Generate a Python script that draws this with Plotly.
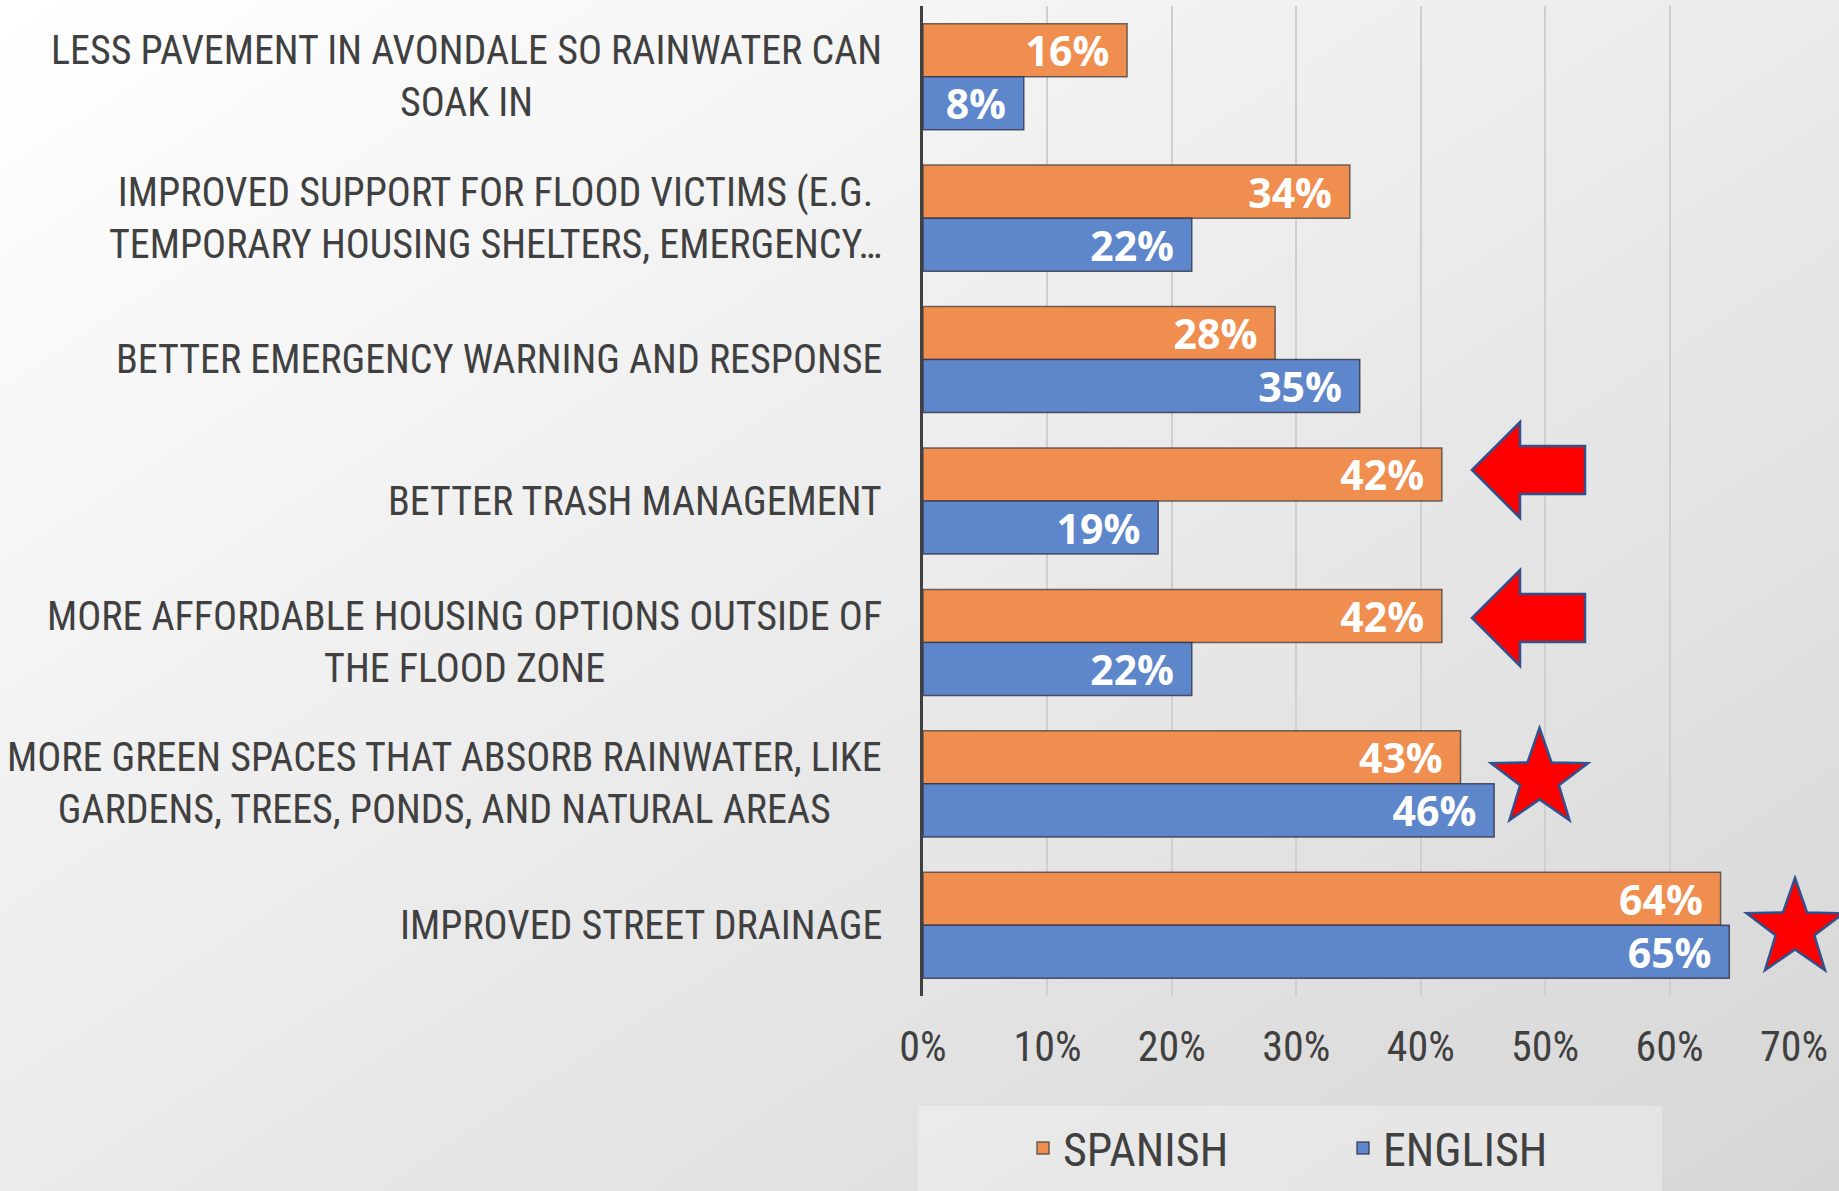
import base64
import math
import plotly.graph_objects as go

categories = [
    "LESS PAVEMENT IN AVONDALE SO RAINWATER CAN<br>SOAK IN",
    "IMPROVED SUPPORT FOR FLOOD VICTIMS (E.G.<br>TEMPORARY HOUSING SHELTERS, EMERGENCY…",
    "BETTER EMERGENCY WARNING AND RESPONSE",
    "BETTER TRASH MANAGEMENT",
    "MORE AFFORDABLE HOUSING OPTIONS OUTSIDE OF<br>THE FLOOD ZONE",
    "MORE GREEN SPACES THAT ABSORB RAINWATER, LIKE<br>GARDENS, TREES, PONDS, AND NATURAL AREAS",
    "IMPROVED STREET DRAINAGE",
]
spanish = [0.164, 0.343, 0.283, 0.417, 0.417, 0.432, 0.641]
english = [0.081, 0.216, 0.351, 0.189, 0.216, 0.459, 0.648]
series_names = ["SPANISH", "ENGLISH"]
tick_vals = [0, 0.1, 0.2, 0.3, 0.4, 0.5, 0.6, 0.7]

W, H = 1839, 1191
L, R, T, B = 923, 45, 6, 195
PW, PH = W - L - R, H - T - B

CAT_FONT = "Liberation Sans Narrow, Arial Narrow, Roboto Condensed, Open Sans, sans-serif"
TXT = "#404040"


def px(x, y):
    return (x - L) / PW, (T + PH - y) / PH


def path(points):
    pts = [px(x, y) for x, y in points]
    return "M " + " L ".join(f"{a:.5f},{b:.5f}" for a, b in pts) + " Z"


def arrow(cy):
    return path([(1472, cy), (1520, cy - 48), (1520, cy - 24), (1585, cy - 24),
                 (1585, cy + 24), (1520, cy + 24), (1520, cy + 48)])


def star(cx, cy, r, ratio=0.4):
    pts = []
    for i in range(10):
        ang = -math.pi / 2 + i * math.pi / 5
        rr = r if i % 2 == 0 else r * ratio
        pts.append((cx + rr * math.cos(ang), cy + rr * math.sin(ang)))
    return path(pts)


label_font = dict(family="Open Sans", size=41, color="white", weight="bold")
fig = go.Figure()
fig.add_trace(go.Bar(
    y=categories, x=spanish, name=series_names[0], orientation="h",
    marker=dict(color="#EF8E4F", line=dict(color="rgba(70,70,70,0.8)", width=1.5)),
    texttemplate="%{x:.0%}\u00a0\u200a", textposition="inside", insidetextanchor="end",
    constraintext="none", textangle=0, textfont=label_font,
))
fig.add_trace(go.Bar(
    y=categories, x=english, name=series_names[1], orientation="h",
    marker=dict(color="#5E86CB", line=dict(color="rgba(50,50,70,0.8)", width=1.5)),
    texttemplate="%{x:.0%}\u00a0\u200a", textposition="inside", insidetextanchor="end",
    constraintext="none", textangle=0, textfont=label_font,
))

svg = (f'<svg xmlns="http://www.w3.org/2000/svg" width="{W}" height="{H}" '
       f'viewBox="0 0 {W} {H}" preserveAspectRatio="none"><defs>'
       '<linearGradient id="g" x1="0" y1="0" x2="1" y2="1">'
       '<stop offset="0" stop-color="#ffffff"/><stop offset="1" stop-color="#d6d6d6"/>'
       '</linearGradient></defs><rect width="100%" height="100%" fill="url(#g)"/></svg>')
src = "data:image/svg+xml;base64," + base64.b64encode(svg.encode()).decode()

shapes = []
lx0, ly1 = px(918, 1106)
lx1, ly0 = px(1662, 1195)
shapes.append(dict(type="rect", xref="paper", yref="paper", x0=lx0, x1=lx1, y0=ly0, y1=ly1,
                   fillcolor="rgba(255,255,255,0.3)", line=dict(width=0), layer="below"))
for cy in (470, 618):
    shapes.append(dict(type="path", xref="paper", yref="paper", path=arrow(cy),
                       fillcolor="#FF0000", line=dict(color="#2F528F", width=2.5)))
for cx, cy in ((1539.5, 779), (1795, 929)):
    shapes.append(dict(type="path", xref="paper", yref="paper", path=star(cx, cy, 51),
                       fillcolor="#FF0000", line=dict(color="#2F528F", width=2.5)))

annotations = [
    dict(text=c, x=0, xref="paper", y=c, yref="y", xanchor="right", yanchor="middle",
         xshift=-39, align="center", showarrow=False,
         font=dict(family=CAT_FONT, size=40, color=TXT))
    for c in categories
]

fig.update_layout(
    width=W, height=H,
    margin=dict(l=L, r=R, t=T, b=B, pad=0),
    paper_bgcolor="#e9e9e9", plot_bgcolor="rgba(0,0,0,0)",
    barmode="group", bargap=0.25, bargroupgap=0,
    images=[dict(source=src, xref="paper", yref="paper", x=-L / PW, y=1 + T / PH,
                 sizex=W / PW, sizey=H / PH, sizing="stretch", xanchor="left",
                 yanchor="top", layer="below")],
    shapes=shapes,
    annotations=annotations,
    showlegend=True,
    legend=dict(orientation="h", x=px(1343, 0)[0], xanchor="center",
                y=px(0, 1148)[1], yanchor="middle", bgcolor="rgba(0,0,0,0)",
                font=dict(family=CAT_FONT, size=46, color=TXT),
                traceorder="normal", entrywidth=275),
    xaxis=dict(range=[0, 0.7], tickvals=tick_vals, tickformat=".0%",
               showgrid=True, gridcolor="#cfcfcf", gridwidth=2,
               zeroline=False, showline=False, ticks="",
               tickfont=dict(family=CAT_FONT, size=42, color=TXT),
               ticklabelstandoff=22),
    yaxis=dict(autorange="reversed", showticklabels=False, showgrid=False,
               showline=True, linecolor="#404040", linewidth=3, ticks="",
               zeroline=False),
)

fig.write_html("out.html", config={"displayModeBar": False},
               post_script="document.body.style.margin='0';document.body.style.overflow='hidden';")
